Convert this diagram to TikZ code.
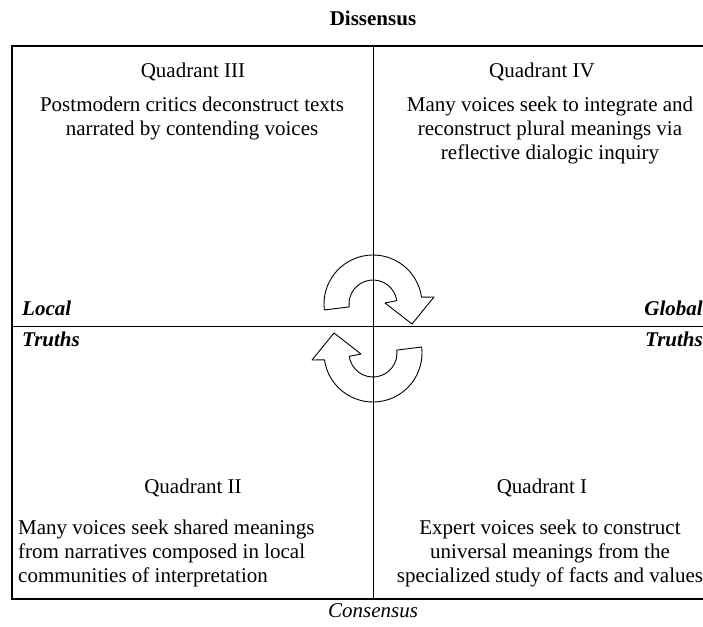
\documentclass[tikz,border=0pt]{standalone}
\usepackage{fontspec}
\setmainfont{Liberation Serif}

\begin{document}
\begin{tikzpicture}[x=1pt, y=-1pt, frame/.style={line width=1.4pt}, divider/.style={line width=0.9pt}, turn/.style={draw, line width=0.9pt, line join=round}, quadtext/.style={font=\fontsize{21}{24}\selectfont, inner sep=0pt, align=center}, truthtext/.style={font=\fontsize{21}{24}\selectfont\bfseries\itshape, inner sep=0pt}, cyclearrow/.pic={\draw[turn] (187:49) arc[start angle=187, end angle=8, radius=49] -- (61,7) -- (39,-20) -- (12,1) -- (8:24) arc[start angle=8, end angle=187, radius=24] -- cycle;}]
    \useasboundingbox (0,0) rectangle (703,626);
    \coordinate (nw) at (12,46);
    \coordinate (ne) at (703,46);
    \coordinate (sw) at (12,599);
    \coordinate (se) at (703,599);
    \coordinate (top) at (373,46);
    \coordinate (bottom) at (373,599);
    \coordinate (left) at (12,326);
    \coordinate (right) at (703,326);
    \draw[frame] (ne) -- (nw) -- (sw) -- (se);
    \draw[divider] (top) -- (bottom);
    \draw[divider] (left) -- (right);
    % axis labels
    \node[quadtext, font=\fontsize{21}{24}\selectfont\bfseries, anchor=base] (dissensus) at (373,26) {Dissensus};
    \node[quadtext, font=\fontsize{21}{24}\selectfont\itshape, anchor=base] (consensus) at (373,617) {Consensus};
    \node[truthtext, anchor=base west] (local) at (22,315) {Local};
    \node[truthtext, anchor=base west] (localtruths) at (22,346) {Truths};
    \node[truthtext, anchor=base east] (global) at (703,315) {Global};
    \node[truthtext, anchor=base east] (globaltruths) at (703,346) {Truths};
    % quadrants
    \node[quadtext, anchor=base] (q3) at (193,77) {Quadrant III};
    \node[quadtext, anchor=north] (q3text) at (192,97) {Postmodern critics deconstruct texts\\narrated by contending voices};
    \node[quadtext, anchor=base] (q4) at (542,77) {Quadrant IV};
    \node[quadtext, anchor=north] (q4text) at (550,97) {Many voices seek to integrate and\\reconstruct plural meanings via\\reflective dialogic inquiry};
    \node[quadtext, anchor=base] (q2) at (193,493) {Quadrant II};
    \node[quadtext, align=left, anchor=north west] (q2text) at (18,520) {Many voices seek shared meanings\\from narratives composed in local\\communities of interpretation};
    \node[quadtext, anchor=base] (q1) at (542,493) {Quadrant I};
    \node[quadtext, anchor=north] (q1text) at (550,520) {Expert voices seek to construct\\universal meanings from the\\specialized study of facts and values};
    % turning arrows
    \begin{scope}[shift={(373,304)}, y=1pt]
        \pic {cyclearrow};
    \end{scope}
    \begin{scope}[shift={(373,353)}, y=1pt]
        \pic[rotate=180] {cyclearrow};
    \end{scope}
\end{tikzpicture}
\end{document}
